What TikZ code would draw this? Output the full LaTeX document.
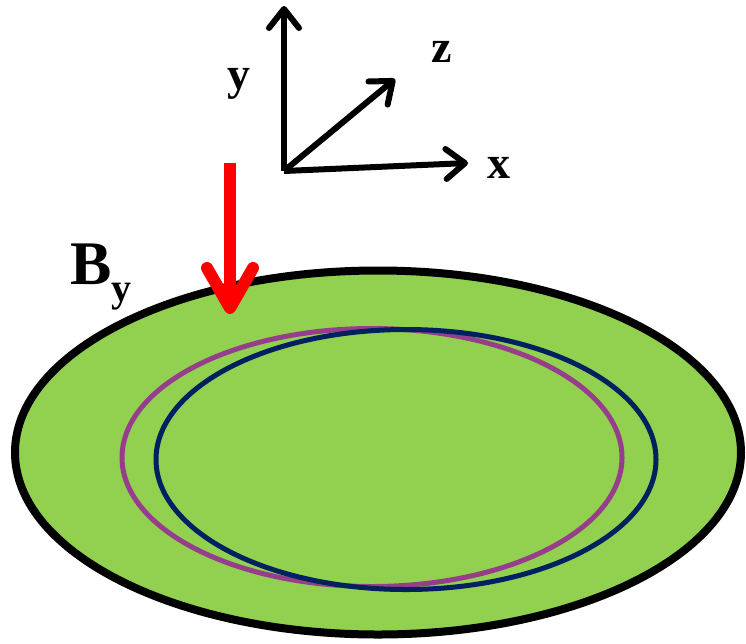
\documentclass[tikz,border=0pt]{standalone}
\usepackage{fontspec}
\setmainfont{Liberation Serif}
\usetikzlibrary{positioning,arrows.meta}

\definecolor{plategreen}{RGB}{146,208,80}
\definecolor{ringviolet}{RGB}{150,62,140}
\definecolor{ringnavy}{RGB}{0,32,96}

\begin{document}
\begin{tikzpicture}[
    x=1pt, y=-1pt,
    axisarrow/.style={
        line width=6pt,
        -{Straight Barb[length=19pt,width=30pt,round]}
    },
    axislabel/.style={
        inner sep=0pt,
        anchor=base,
        font=\fontsize{46}{48}\selectfont\bfseries
    },
    fieldarrow/.style={
        draw=red,
        line width=12pt,
        -{Straight Barb[length=40pt,width=46pt,round]}
    },
    plate/.style={
        fill=plategreen,
        draw=black,
        line width=8pt
    },
    ring/.style={line width=5pt}
]

\useasboundingbox (0,0) rectangle (746,643);

% ------------------------------------------------------------
% Plate and current rings
% ------------------------------------------------------------

\draw[plate] (378,452.5) ellipse [x radius=363, y radius=182];

\draw[ring, ringviolet] (372,457.5) ellipse [x radius=250, y radius=129];
\draw[ring, ringnavy] (406,459.5) ellipse [x radius=250, y radius=130];

% ------------------------------------------------------------
% Axes
% ------------------------------------------------------------

\coordinate (origin) at (284,171);
\coordinate (ytip) at (284,6);
\coordinate (xtip) at (468,163);
\coordinate (ztip) at (395,79);

\draw[axisarrow] (origin) -- (ytip);
\draw[axisarrow] (origin) -- (xtip);
\draw[axisarrow] (origin) -- (ztip);

\node[axislabel] (ylabel) at (239,89) {y};
\node[axislabel] (zlabel) at (442,62) {z};
\node[axislabel] (xlabel) at (499,178) {x};

% ------------------------------------------------------------
% Applied field
% ------------------------------------------------------------

\coordinate (fieldtop) at (230,163);
\coordinate (fieldtip) at (230,314);

\draw[fieldarrow] (fieldtop) -- (fieldtip);

\node[inner sep=0pt, anchor=base west,
      font=\fontsize{62}{64}\selectfont\bfseries] (blabel) at (70,284)
    {B\raisebox{-17pt}{\fontsize{40}{42}\selectfont y}};

\end{tikzpicture}
\end{document}
